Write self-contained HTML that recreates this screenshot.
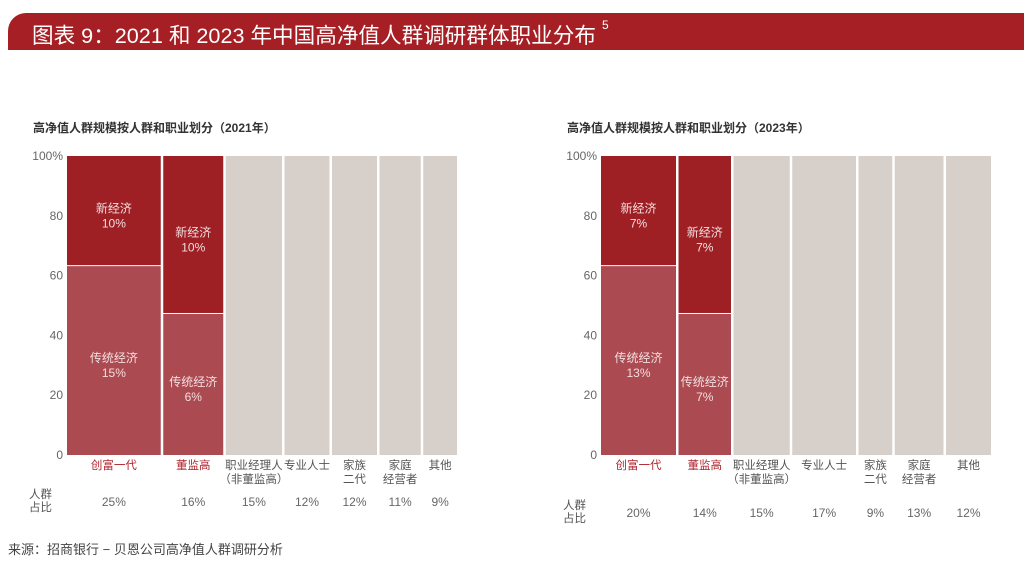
<!DOCTYPE html>
<html><head><meta charset="utf-8">
<style>
body{margin:0;width:1024px;height:561px;background:#fff;position:relative;overflow:hidden;font-family:"Liberation Sans","Noto Sans CJK SC",sans-serif;}
.t{position:absolute;white-space:nowrap;}
#hdr{position:absolute;left:8px;top:13px;width:1016px;height:37px;background:#a51f24;border-top-left-radius:18px;}
#hdr span{position:absolute;left:24px;top:6px;color:#fff;font-size:21.6px;}
#hdr sup{font-size:12px;vertical-align:top;position:relative;top:-1px;}
</style></head><body>
<div id="hdr"><span>图表 9：2021 和 2023 年中国高净值人群调研群体职业分布 <sup>5</sup></span></div>
<div class="t" style="left:8px;top:539px;font-size:13px;color:#444;">来源：招商银行 − 贝恩公司高净值人群调研分析</div>
<svg id="svg" width="1024" height="561" style="position:absolute;left:0;top:0"></svg>
<script>
const categories=["创富一代","董监高","职业经理人\n（非董监高）","专业人士","家族\n二代","家庭\n经营者","其他"];
const shares2021=[25,16,15,12,12,11,9];
const shares2023=[20,14,15,17,9,13,12];
const tradHeight2021=[63.5,47.5];
const tradHeight2023=[63.5,47.5];
const tradLabel2021=["15%","6%"];
const newLabel2021=["10%","10%"];
const tradLabel2023=["13%","7%"];
const newLabel2023=["7%","7%"];
const yTicks=[0,20,40,60,80,100];
const NS="http://www.w3.org/2000/svg";
const svg=document.getElementById('svg');
function mk(tag,attrs,parent){const e=document.createElementNS(NS,tag);for(const k in attrs)e.setAttribute(k,attrs[k]);(parent||svg).appendChild(e);return e;}
function txt(x,y,s,size,fill,anchor,parent,weight){const e=mk('text',{x:x,y:y,'font-size':size,fill:fill,'text-anchor':anchor||'middle','font-family':'"Liberation Sans","Noto Sans CJK SC",sans-serif'},parent);if(weight)e.setAttribute('font-weight',weight);e.textContent=s;return e;}
function chart(ox,title,shares,tradH,tradL,newL,shareY,labelY){
  const g=mk('g',{});
  
  
  const x0=ox,x1=ox+390,top=156,bot=455,gap=2.5;
  const y=v=>bot-(v/100)*(bot-top);
  const total=shares.reduce((a,b)=>a+b,0);
  const avail=(x1-x0)-gap*(shares.length-1);
  const tt=txt(ox-34,132,title,12,'#333','start',g,'bold');
  
  
  yTicks.forEach(v=>{const e=txt(ox-4,y(v)+4,v===100?'100%':String(v),12,'#666','end',g);
    
    });
  let cx=x0;
  shares.forEach((s,i)=>{
    const w=avail*s/total;const mid=cx+w/2;
    if(i<2){
      const r1=mk('rect',{x:cx,y:top,width:w,height:y(tradH[i])-top,fill:'#9e1f24'},g);
      
      
      const r2=mk('rect',{x:cx,y:y(tradH[i])+1,width:w,height:bot-y(tradH[i])-1,fill:'#ac4a52'},g);
      
      
      const ny=(top+y(tradH[i]))/2+2;
      txt(mid,ny,'新经济',12,'#f3dede','middle',g);
      txt(mid,ny+15,newL[i],12,'#f3dede','middle',g);
      const ty=(y(tradH[i])+bot)/2+2;
      txt(mid,ty,'传统经济',12,'#f3dede','middle',g);
      txt(mid,ty+15,tradL[i],12,'#f3dede','middle',g);
    }else{
      const r=mk('rect',{x:cx,y:top,width:w,height:bot-top,fill:'#d6cfca'},g);
      
      
    }
    categories[i].split('\n').forEach((ln,k)=>{const e=txt(mid,469+k*14,ln,11.5,i<2?'#b0252c':'#555','middle',g);
      
      });
    const sv=txt(mid,shareY,s+'%',12,'#666','middle',g);
    
    
    cx+=w+gap;
  });
  txt(ox-15,labelY,'人群',11.5,'#555','end',g);
  txt(ox-15,labelY+13,'占比',11.5,'#555','end',g);
}
chart(67,'高净值人群规模按人群和职业划分（2021年）',shares2021,tradHeight2021,tradLabel2021,newLabel2021,506,498);
chart(601,'高净值人群规模按人群和职业划分（2023年）',shares2023,tradHeight2023,tradLabel2023,newLabel2023,517,509);
</script>
</body></html>
